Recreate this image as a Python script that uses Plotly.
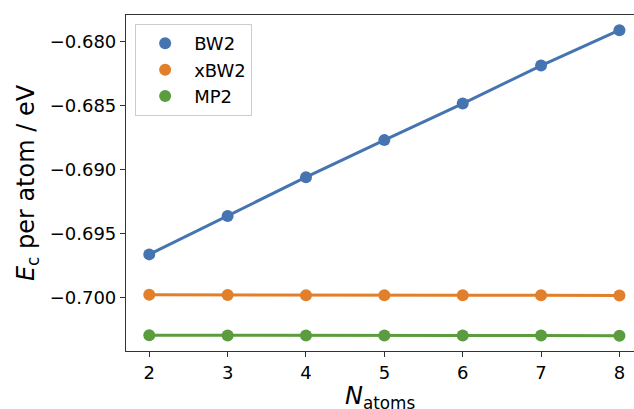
import plotly.graph_objects as go

n_atoms = [2, 3, 4, 5, 6, 7, 8]
bw2 = [-0.69662, -0.69362, -0.69058, -0.68768, -0.68482, -0.68185, -0.67908]
xbw2 = [-0.69978, -0.69980, -0.69981, -0.69982, -0.69982, -0.69981, -0.69984]
mp2 = [-0.70294, -0.70296, -0.70296, -0.70297, -0.70297, -0.70296, -0.70298]
names = ["BW2", "xBW2", "MP2"]
colors = ["#4674b1", "#e17f2b", "#5b9d3e"]
y_ticks = [-0.700, -0.695, -0.690, -0.685, -0.680]
y_ticktext = ["\u22120.700", "\u22120.695", "\u22120.690", "\u22120.685", "\u22120.680"]
x_title = "<i>N</i><sub>atoms</sub>"
y_title = "<i>E</i><sub>c</sub> per atom / eV"

fig = go.Figure()
for name, ys, c in zip(names, [bw2, xbw2, mp2], colors):
    fig.add_trace(go.Scatter(x=n_atoms, y=ys, mode="lines", line=dict(color=c, width=3),
                             showlegend=False, hoverinfo="skip"))
for name, ys, c in zip(names, [bw2, xbw2, mp2], colors):
    fig.add_trace(go.Scatter(x=n_atoms, y=ys, mode="markers", name=name,
                             marker=dict(color=c, size=12, line=dict(width=0))))

font = "DejaVu Sans"
fig.update_layout(
    width=634, height=409,
    margin=dict(l=126, r=0, t=15, b=58),
    plot_bgcolor="white", paper_bgcolor="white",
    font=dict(family=font, size=18, color="black"),
    legend=dict(x=0.018, y=0.973, xanchor="left", yanchor="top",
                bordercolor="#cccccc", borderwidth=1, bgcolor="white",
                font=dict(size=18), itemwidth=48, tracegroupgap=0),
    xaxis=dict(range=[1.703, 8.186], tickvals=n_atoms, showgrid=False, zeroline=False,
               showline=True, linecolor="#333333", linewidth=1.2, mirror=True,
               ticks="outside", ticklen=5, tickcolor="#333333",
               tickfont=dict(size=18)),
    yaxis=dict(range=[-0.70418, -0.67789], tickvals=y_ticks, ticktext=y_ticktext,
               showgrid=False, zeroline=False,
               showline=True, linecolor="#333333", linewidth=1.2, mirror=False,
               ticks="outside", ticklen=5, tickcolor="#333333",
               tickfont=dict(size=18),
               title=dict(text=y_title, font=dict(size=24), standoff=8)),
    annotations=[dict(text=x_title, xref="paper", yref="paper", x=0.5, y=0,
                      xanchor="center", yanchor="top", yshift=-29, showarrow=False,
                      font=dict(size=24))],
)
fig.write_html("out.html")
